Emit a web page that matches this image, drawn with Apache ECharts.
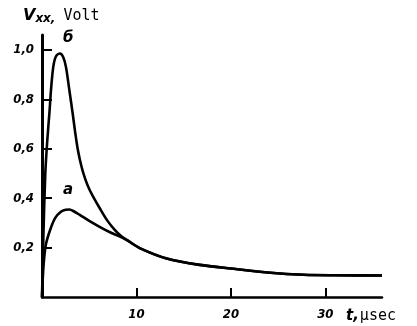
<!DOCTYPE html>
<html><head><meta charset="utf-8">
<script src="https://cdn.jsdelivr.net/npm/echarts@6/dist/echarts.min.js"></script>
<style>html,body{margin:0;padding:0;background:#fff}#c{width:417px;height:326px}</style>
</head><body><div id="c"></div>
<script>
// Curve б
const tB = [0, 0.15, 0.35, 0.56, 0.78, 0.95, 1.2, 1.5, 1.9, 2.25, 2.54, 2.9, 3.25, 3.5, 3.8, 4.2, 4.6, 5.0, 5.5, 6.1, 6.9, 7.7, 8.4, 9.0, 10.4, 13.2, 16.7, 20, 24.2, 27.7, 31, 36];
const vB = [0, 0.25, 0.5, 0.634, 0.742, 0.836, 0.933, 0.975, 0.985, 0.97, 0.93, 0.836, 0.742, 0.67, 0.595, 0.525, 0.475, 0.437, 0.4, 0.36, 0.31, 0.272, 0.246, 0.23, 0.197, 0.156, 0.13, 0.115, 0.098, 0.09, 0.088, 0.087];
// Curve а
const tA = [0, 0.15, 0.4, 0.85, 1.4, 2.0, 2.5, 2.9, 3.4, 4.0, 5.0, 6.1, 7.2, 8.25, 9.0, 10.4, 13.2, 16.7, 20, 24.2, 27.7, 31, 36];
const vA = [0, 0.12, 0.21, 0.27, 0.32, 0.345, 0.353, 0.354, 0.346, 0.332, 0.308, 0.284, 0.262, 0.244, 0.23, 0.197, 0.156, 0.13, 0.115, 0.098, 0.09, 0.088, 0.087];
const xTicks = [10, 20, 30];
const yTicks = [0.2, 0.4, 0.6, 0.8, 1.0];
const curveNames = ['б', 'а'];

const chart = echarts.init(document.getElementById('c'));
const lblFont = {fontFamily: 'DejaVu Sans Condensed, DejaVu Sans', fontWeight: 'bold', fontStyle: 'italic', fontSize: 13, color: '#000'};
const nameFont = {fontFamily: 'DejaVu Sans', fontWeight: 'bold', fontStyle: 'italic', fontSize: 15, fill: '#000'};
chart.setOption({
  animation: false,
  grid: {left: 42, right: 35, top: 35, bottom: 29},
  xAxis: {
    type: 'value', min: 0, max: 36,
    axisLine: {lineStyle: {color: '#000', width: 2.5}},
    axisTick: {inside: true, length: 9, lineStyle: {color: '#000', width: 2}, customValues: xTicks},
    axisLabel: Object.assign({margin: 11, customValues: xTicks}, lblFont),
    splitLine: {show: false}
  },
  yAxis: {
    type: 'value', min: 0, max: 1.06,
    axisLine: {show: true, lineStyle: {color: '#000', width: 3}},
    axisTick: {show: true, inside: true, length: 10, lineStyle: {color: '#000', width: 2}, customValues: yTicks},
    axisLabel: Object.assign({margin: 8, customValues: yTicks, formatter: v => v.toFixed(1).replace('.', ',')}, lblFont),
    splitLine: {show: false}
  },
  graphic: [
    {type: 'text', left: 23, top: 8, style: {
      rich: {
        v: {fontFamily: 'DejaVu Sans', fontWeight: 'bold', fontStyle: 'italic', fontSize: 16, fill: '#000'},
        s: {fontFamily: 'DejaVu Sans', fontWeight: 'bold', fontStyle: 'italic', fontSize: 12, fill: '#000', padding: [6, 0, 0, 0]},
        u: {fontFamily: 'DejaVu Sans Mono', fontSize: 15, fill: '#000', padding: [0, 0, 0, 8]}
      },
      text: '{v|V}{s|xx,}{u|Volt}'
    }},
    {type: 'text', left: 346, top: 309, style: {
      rich: {
        t: {fontFamily: 'DejaVu Sans', fontWeight: 'bold', fontStyle: 'italic', fontSize: 15, fill: '#000'},
        u: {fontFamily: 'DejaVu Sans Mono', fontSize: 15, fill: '#000', padding: [0, 0, 0, 1]}
      },
      text: '{t|t,}{u|μsec}'
    }},
    {type: 'text', left: 63, top: 31, style: Object.assign({text: curveNames[0]}, nameFont)},
    {type: 'text', left: 63, top: 183, style: Object.assign({text: curveNames[1]}, nameFont)}
  ],
  series: [
    {type: 'line', name: curveNames[0], data: tB.map((t, i) => [t, vB[i]]), smooth: 0.3, showSymbol: false, lineStyle: {color: '#000', width: 2.6}},
    {type: 'line', name: curveNames[1], data: tA.map((t, i) => [t, vA[i]]), smooth: 0.3, showSymbol: false, lineStyle: {color: '#000', width: 2.6}}
  ]
});
</script></body></html>
